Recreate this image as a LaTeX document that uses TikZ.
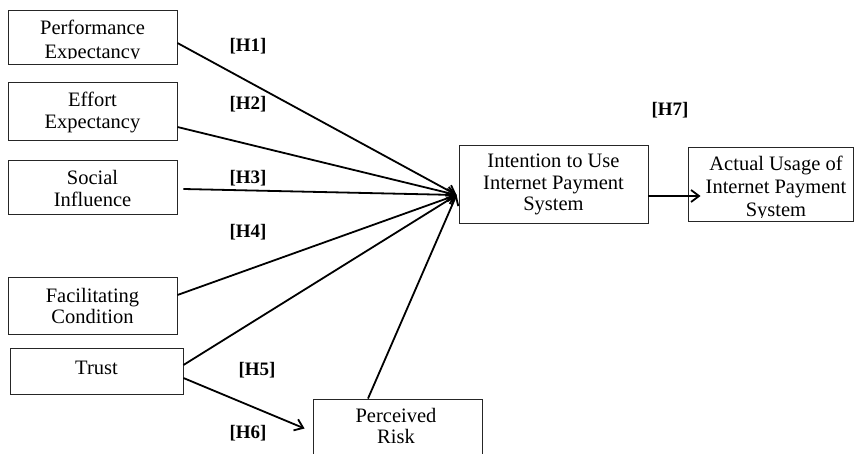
\documentclass[tikz,border=0pt]{standalone}
\usepackage{fontspec}
\setmainfont{Liberation Serif}
\usetikzlibrary{arrows.meta}
\newcommand\mylines[1]{\begin{tabular}[t]{@{}c@{}}#1\end{tabular}}
\begin{document}
\begin{tikzpicture}[x=1pt,y=-1pt,
  box/.style={draw=black!85, line width=0.9pt, inner sep=0pt},
  txt/.style={anchor=base, inner sep=0pt, font=\fontsize{20.5}{21.5}\selectfont},
  hyp/.style={inner sep=0pt, font=\fontsize{19}{21}\selectfont\bfseries},
  arr/.style={line width=1.8pt, -{Straight Barb[length=8pt,width=12pt]}}]
\useasboundingbox (0,0) rectangle (856,454);

% boxes
\node[box, minimum width=169pt, minimum height=54pt] (pe) at (92.5,37) {};
\node[box, minimum width=169pt, minimum height=58pt] (ee) at (92.5,111) {};
\node[box, minimum width=169pt, minimum height=54pt] (si) at (92.5,187) {};
\node[box, minimum width=169pt, minimum height=57pt] (fc) at (92.5,305.5) {};
\node[box, minimum width=173pt, minimum height=46pt] (tr) at (96.5,371) {};
\node[box, minimum width=169pt, minimum height=59pt] (pr) at (397.5,428.5) {};
\node[box, minimum width=189pt, minimum height=78pt] (int) at (553.5,184) {};
\node[box, minimum width=165pt, minimum height=74pt] (act) at (770.5,184) {};

% texts
\begin{scope}
  \clip (0,0) rectangle (200,58.5);
  \node[txt, font=\fontsize{20.5}{23.5}\selectfont] (pe-t) at (92.5,35) {\mylines{Performance\\Expectancy}};
\end{scope}
\node[txt] (ee-t) at (92.5,107) {\mylines{Effort\\Expectancy}};
\node[txt] (si-t) at (92.5,185) {\mylines{Social\\Influence}};
\node[txt] (fc-t) at (92.5,302) {\mylines{Facilitating\\Condition}};
\node[txt] (tr-t) at (96.5,374) {Trust};
\node[txt] (pr-t) at (396,422) {\mylines{Perceived\\Risk}};
\node[txt] (int-t) at (553.5,168) {\mylines{Intention to Use\\Internet Payment\\System}};
\begin{scope}
  \clip (680,140) rectangle (856,217.5);
  \node[txt, font=\fontsize{20.5}{23}\selectfont] (act-t) at (776,171) {\mylines{Actual Usage of\\Internet Payment\\System}};
\end{scope}

% hypothesis labels
\node[hyp] (h1) at (248,46) {[H1]};
\node[hyp] (h2) at (248,104) {[H2]};
\node[hyp] (h3) at (248,178) {[H3]};
\node[hyp] (h4) at (248,232) {[H4]};
\node[hyp] (h5) at (257,370) {[H5]};
\node[hyp] (h6) at (248,433) {[H6]};
\node[hyp] (h7) at (670,110) {[H7]};

% connectors
\coordinate (conv) at ([xshift=-2pt,yshift=-11pt]int.west);
\draw[arr] ([yshift=-6pt]pe.east) -- (conv);
\draw[arr] ([yshift=-16pt]ee.east) -- (conv);
\draw[arr] ([xshift=6pt,yshift=-2pt]si.east) -- (conv);
\draw[arr] ([yshift=10.5pt]fc.east) -- (conv);
\draw[arr] ([yshift=6pt]tr.east) -- (conv);
\draw[arr] ([xshift=-29.5pt]pr.north) -- (conv);
\draw[arr] ([yshift=-7pt]tr.east) -- ([xshift=-8pt]pr.west);
\draw[arr] ([yshift=-12pt]int.east) -- ([xshift=13pt,yshift=-12pt]act.west);
\end{tikzpicture}
\end{document}
